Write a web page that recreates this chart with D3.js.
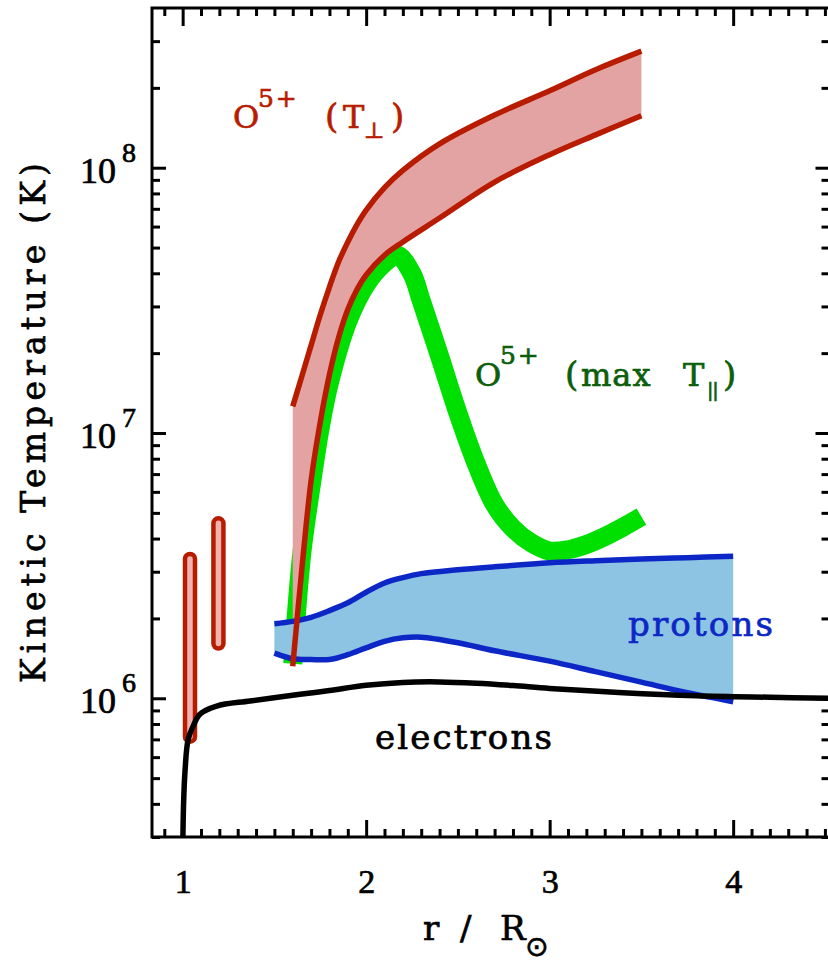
<!DOCTYPE html>
<html>
<head>
<meta charset="utf-8">
<script src="https://cdn.jsdelivr.net/npm/d3@7"></script>
<style>
  body { margin: 0; background: #fff; }
  text { font-family: "DejaVu Serif", serif; stroke-width: 0.7px; }
</style>
</head>
<body>
<div id="chart"></div>
<script>
// O5+ perpendicular temperature band (upper / lower edge), K
const tperpX     = [1.6, 1.65, 1.7, 1.75, 1.8, 1.85, 1.9, 1.95, 2.0, 2.1, 2.2, 2.4, 2.7, 3.0, 3.25, 3.5];
const tperpUpper = [1.26e7, 1.64e7, 2.14e7, 2.79e7, 3.55e7, 4.42e7, 5.25e7, 6.10e7, 6.92e7, 8.41e7, 9.77e7, 1.23e8, 1.58e8, 1.95e8, 2.34e8, 2.75e8];
const tperpLower = [1.32e6, 3.09e6, 6.61e6, 1.10e7, 1.66e7, 2.29e7, 2.92e7, 3.47e7, 3.94e7, 4.68e7, 5.25e7, 6.46e7, 8.83e7, 1.12e8, 1.33e8, 1.57e8];

// O5+ max parallel temperature
const tparX   = [1.6, 1.65, 1.7, 1.75, 1.8, 1.9, 2.0, 2.1, 2.17, 2.25, 2.3, 2.4, 2.5, 2.6, 2.7, 2.8, 2.9, 3.0, 3.1, 3.2, 3.3, 3.4, 3.5];
const tparMax = [1.35e6, 3.55e6, 6.3e6, 1.05e7, 1.55e7, 2.63e7, 3.63e7, 4.37e7, 4.68e7, 3.98e7, 3.16e7, 1.95e7, 1.19e7, 7.66e6, 5.37e6, 4.37e6, 3.85e6, 3.59e6, 3.63e6, 3.80e6, 4.07e6, 4.42e6, 4.84e6];

// protons band
const protonX     = [1.5, 1.6, 1.7, 1.8, 1.9, 2.0, 2.1, 2.2, 2.3, 2.5, 2.7, 3.0, 3.25, 3.5, 3.75, 4.0];
const protonUpper = [1.91e6, 1.95e6, 2.02e6, 2.14e6, 2.29e6, 2.51e6, 2.72e6, 2.85e6, 2.95e6, 3.05e6, 3.13e6, 3.24e6, 3.30e6, 3.35e6, 3.39e6, 3.43e6];
const protonLower = [1.48e6, 1.41e6, 1.40e6, 1.40e6, 1.46e6, 1.55e6, 1.64e6, 1.69e6, 1.70e6, 1.62e6, 1.51e6, 1.38e6, 1.26e6, 1.15e6, 1.05e6, 9.7e5];

// electrons
const electronX = [1.0, 1.005, 1.0125, 1.03, 1.058, 1.094, 1.185, 1.367, 1.64, 1.8, 2.0, 2.2, 2.4, 2.6, 2.8, 3.0, 3.4, 3.8, 4.2, 4.52];
const electronT = [2.5e5, 3.98e5, 5.25e5, 7.0e5, 7.87e5, 8.71e5, 9.35e5, 9.77e5, 1.035e6, 1.07e6, 1.12e6, 1.148e6, 1.153e6, 1.14e6, 1.117e6, 1.089e6, 1.05e6, 1.023e6, 1.009e6, 1.0e6];

// O5+ T_perp observational ranges near the limb
const obsX    = [1.04, 1.195];
const obsLow  = [6.86e5, 1.54e6];
const obsHigh = [3.5e6, 4.77e6];

// ticks
const xMajor = [1, 2, 3, 4];
const xMinor = d3.range(9, 46).filter(i => i % 10 !== 0).map(i => i / 10);
const yMajor = [1e6, 1e7, 1e8];
const yMinor = [];
[1e5, 1e6, 1e7, 1e8].forEach(d => d3.range(2, 10).forEach(m => {
  const v = m * d;
  if (v >= 3e5 && v < 4e8) yMinor.push(v);
}));

const W = 828, H = 962;
const margin = {top: 8, right: -1.5, bottom: 125, left: 152},
      width = W - margin.left - margin.right,
      height = H - margin.top - margin.bottom;

const svg = d3.select("#chart")
  .append("svg")
    .attr("width", W)
    .attr("height", H)
  .append("g")
    .attr("transform", `translate(${margin.left},${margin.top})`);

const x = d3.scaleLinear().domain([0.833, 4.525]).range([0, width]);
const y = d3.scaleLog().domain([3e5, 4e8]).range([height, 0]);

svg.append("clipPath").attr("id", "clip")
  .append("rect").attr("width", width).attr("height", height);

const plot = svg.append("g").attr("clip-path", "url(#clip)");

const curve = d3.curveCatmullRom.alpha(0.5);
const line = d3.line().x(d => x(d[0])).y(d => y(d[1])).curve(curve);
const area = d3.area().x(d => x(d[0])).y0(d => y(d[1])).y1(d => y(d[2])).curve(curve);

const red = "#b81c00", pink = "#e3a3a3", green = "#00e000",
      blue = "#0c27c6", lightBlue = "#8dc4e4";

// green max T_par
plot.append("path")
  .datum(d3.zip(tparX, tparMax))
  .attr("d", line)
  .attr("fill", "none")
  .attr("stroke", green)
  .attr("stroke-width", 19);

// pink T_perp band
plot.append("path")
  .datum(d3.zip(tperpX, tperpLower, tperpUpper))
  .attr("d", area)
  .attr("fill", pink);

// observation bars
plot.selectAll(".obs")
  .data(d3.zip(obsX, obsLow, obsHigh))
  .join("rect")
    .attr("class", "obs")
    .attr("x", d => x(d[0]) - 5)
    .attr("width", 10)
    .attr("y", d => y(d[2]))
    .attr("height", d => y(d[1]) - y(d[2]))
    .attr("rx", 5)
    .attr("fill", "#f0b4b0")
    .attr("stroke", red)
    .attr("stroke-width", 4.5);

// protons band
plot.append("path")
  .datum(d3.zip(protonX, protonLower, protonUpper))
  .attr("d", area)
  .attr("fill", lightBlue);

[protonUpper, protonLower].forEach(ys => {
  plot.append("path")
    .datum(d3.zip(protonX, ys))
    .attr("d", line)
    .attr("fill", "none")
    .attr("stroke", blue)
    .attr("stroke-width", 5.5);
});

[tperpUpper, tperpLower].forEach(ys => {
  plot.append("path")
    .datum(d3.zip(tperpX, ys))
    .attr("d", line)
    .attr("fill", "none")
    .attr("stroke", red)
    .attr("stroke-width", 5.5);
});

// electrons
plot.append("path")
  .datum(d3.zip(electronX, electronT))
  .attr("d", line)
  .attr("fill", "none")
  .attr("stroke", "#000")
  .attr("stroke-width", 5.5);

// axes: ticks point inwards on all four sides
function styleAxis(g) {
  g.select(".domain").remove();
  g.selectAll(".tick line").attr("stroke", "#000").attr("stroke-width", 3);
}

svg.append("g")
  .attr("transform", `translate(0,${height})`)
  .call(d3.axisBottom(x).tickValues(xMajor).tickSizeInner(-17).tickSizeOuter(0)
    .tickPadding(32).tickFormat(d3.format("d")))
  .call(styleAxis)
  .call(g => g.selectAll("text")
    .style("font-family", "'Liberation Serif', serif")
    .style("font-size", "34px")
    .attr("fill", "#000")
    .attr("stroke", "#000"));

svg.append("g")
  .attr("transform", `translate(0,${height})`)
  .call(d3.axisBottom(x).tickValues(xMinor).tickSizeInner(-8).tickSizeOuter(0).tickFormat(""))
  .call(styleAxis);

svg.append("g")
  .call(d3.axisTop(x).tickValues(xMajor).tickSizeInner(-18).tickSizeOuter(0).tickFormat(""))
  .call(styleAxis);
svg.append("g")
  .call(d3.axisTop(x).tickValues(xMinor).tickSizeInner(-8).tickSizeOuter(0).tickFormat(""))
  .call(styleAxis);

svg.append("g")
  .call(d3.axisLeft(y).tickValues(yMajor).tickSizeInner(-14).tickSizeOuter(0).tickFormat(""))
  .call(styleAxis);
svg.append("g")
  .call(d3.axisLeft(y).tickValues(yMinor).tickSizeInner(-8).tickSizeOuter(0).tickFormat(""))
  .call(styleAxis);

svg.append("g")
  .attr("transform", `translate(${width},0)`)
  .call(d3.axisRight(y).tickValues(yMajor).tickSizeInner(-14).tickSizeOuter(0).tickFormat(""))
  .call(styleAxis);
svg.append("g")
  .attr("transform", `translate(${width},0)`)
  .call(d3.axisRight(y).tickValues(yMinor).tickSizeInner(-8).tickSizeOuter(0).tickFormat(""))
  .call(styleAxis);

// y tick labels as 10^n
const yLab = svg.selectAll(".ylab")
  .data(yMajor)
  .join("text")
    .attr("class", "ylab")
    .style("font-family", "'Liberation Serif', serif")
    .attr("fill", "#000")
    .attr("stroke", "#000");
yLab.append("tspan")
  .attr("x", -72).attr("y", d => y(d) + 15)
  .style("font-size", "36px")
  .text("10");
yLab.append("tspan")
  .attr("x", -30).attr("y", d => y(d) - 6)
  .style("font-size", "28px")
  .text(d => Math.round(Math.log10(d)));

// frame
svg.append("rect")
  .attr("width", width)
  .attr("height", height)
  .attr("fill", "none")
  .attr("stroke", "#000")
  .attr("stroke-width", 3);

// axis titles
svg.append("text")
  .attr("transform", `translate(${45 - margin.left},${423 - margin.top}) rotate(-90)`)
  .attr("text-anchor", "middle")
  .attr("textLength", 520)
  .attr("lengthAdjust", "spacing")
  .attr("stroke", "#000")
  .style("font-size", "33px")
  .text("Kinetic Temperature (K)");

const xt = svg.append("text")
  .attr("transform", `translate(0,${940 - margin.top})`)
  .attr("stroke", "#000")
  .style("font-size", "34px");
xt.append("tspan").attr("x", 423 - margin.left).text("r");
xt.append("tspan").attr("x", 460 - margin.left).text("/");
xt.append("tspan").attr("x", 500 - margin.left).text("R");
xt.append("tspan").attr("x", 525 - margin.left).attr("dy", 16)
  .style("font-family", "'DejaVu Sans', sans-serif").style("font-size", "28px").text("\u2299");

// curve labels, anchored in data coordinates
function label(px, py, color, parts) {
  const t = svg.append("text")
    .attr("transform", `translate(${x(px)},${y(py)})`)
    .attr("fill", color)
    .attr("stroke", color);
  parts.forEach(p => {
    t.append("tspan")
      .attr("x", p.dx)
      .attr("y", p.dy || 0)
      .style("font-size", (p.size || 32) + "px")
      .style("letter-spacing", (p.ls || 0) + "px")
      .text(p.t);
  });
  return t;
}

label(1.274, 1.41e8, red, [
  {t: "O", dx: 0},
  {t: "5+", dx: 25, dy: -21, size: 25, ls: 2},
  {t: "(", dx: 92, size: 34},
  {t: "T", dx: 110},
  {t: "\u22a5", dx: 131, dy: 10, size: 22},
  {t: ")", dx: 158, size: 34}
]);

label(2.593, 1.5e7, "#0b5e0b", [
  {t: "O", dx: 0},
  {t: "5+", dx: 25, dy: -22, size: 25, ls: 2},
  {t: "(", dx: 90, size: 34},
  {t: "max", dx: 106, ls: 1},
  {t: "T", dx: 208},
  {t: "||", dx: 232, dy: 10, size: 19, ls: -1},
  {t: ")", dx: 248, size: 34}
]);

svg.append("text")
  .attr("x", x(3.427)).attr("y", y(1.71e6))
  .attr("fill", blue).attr("stroke", blue)
  .attr("textLength", 145).attr("lengthAdjust", "spacing")
  .style("font-size", "34px")
  .text("protons");

svg.append("text")
  .attr("x", x(2.048)).attr("y", y(6.43e5))
  .attr("fill", "#000").attr("stroke", "#000")
  .attr("textLength", 177).attr("lengthAdjust", "spacing")
  .style("font-size", "34px")
  .text("electrons");
</script>
</body>
</html>
